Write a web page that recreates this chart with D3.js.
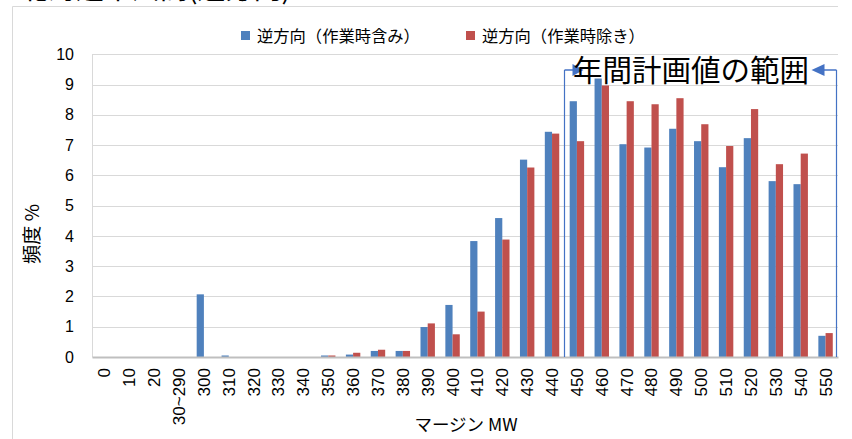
<!DOCTYPE html>
<html><head><meta charset="utf-8">
<script src="https://cdn.jsdelivr.net/npm/d3@7/dist/d3.min.js"></script>
<style>
html,body{margin:0;padding:0;background:#fff;}
svg{display:block;font-family:"Noto Sans CJK JP","Noto Sans",sans-serif;}
</style></head>
<body>
<svg id="chart" width="852" height="439"></svg>
<script>
const categories = ["0","10","20","30~290","300","310","320","330","340","350","360","370","380","390","400","410","420","430","440","450","460","470","480","490","500","510","520","530","540","550"];
const seriesNames = ["逆方向（作業時含み）","逆方向（作業時除き）"];
const withWork = [0,0,0,0,2.07,0.05,0,0,0,0.05,0.08,0.2,0.2,0.99,1.72,3.83,4.59,6.52,7.44,8.45,9.2,7.03,6.92,7.54,7.13,6.27,7.23,5.81,5.71,0.7];
const withoutWork = [0,0,0,0,0,0,0,0,0,0.05,0.14,0.24,0.2,1.11,0.75,1.5,3.88,6.26,7.38,7.13,8.97,8.45,8.35,8.55,7.69,6.97,8.19,6.37,6.72,0.79];
const yTicks = [0,1,2,3,4,5,6,7,8,9,10];
const rangeStart = "440", rangeEnd = "550";
const titleText = "北海道本州間(逆方向)";
const annotationText = "年間計画値の範囲";
const xTitle = "マージン MW";
const yTitle = "頻度 %";

const colors = ["#4F81BD","#C0504D"];
const numFont = "'Liberation Sans','DejaVu Sans',sans-serif";
const cjkFont = "'Noto Sans CJK JP','Noto Sans',sans-serif";
const svg = d3.select("#chart");
const m = {left:92, right:838, top:54.3, bottom:357};

// frame
svg.append("line").attr("x1",12.5).attr("x2",838).attr("y1",6.5).attr("y2",6.5).attr("stroke","#d9d9d9");
svg.append("line").attr("x1",12.5).attr("x2",12.5).attr("y1",6.5).attr("y2",439).attr("stroke","#d9d9d9");

// title (cut off at top, as in the reference)
svg.append("text").attr("x",20).attr("y",-1).style("font-family",cjkFont).style("font-size","28px").attr("fill","#000").text(titleText);

const x = d3.scaleBand().domain(categories).range([m.left,m.right]).paddingInner(0.42).paddingOuter(0.21);
const xs = d3.scaleBand().domain([0,1]).range([0,x.bandwidth()]);
const y = d3.scaleLinear().domain([0,10]).range([m.bottom,m.top]);

// gridlines
svg.append("g").selectAll("line").data(yTicks.filter(d=>d>0)).join("line")
  .attr("x1",m.left).attr("x2",m.right)
  .attr("y1",d=>Math.round(y(d))+0.5).attr("y2",d=>Math.round(y(d))+0.5)
  .attr("stroke","#d9d9d9").attr("stroke-width",1);

// y axis
const yAxis = svg.append("g").attr("transform",`translate(${m.left},0)`)
  .call(d3.axisLeft(y).tickValues(yTicks).tickSize(0).tickPadding(18));
yAxis.attr("font-family",numFont).attr("font-size",16);
yAxis.select(".domain").attr("stroke","#d9d9d9");
yAxis.selectAll("text").style("font-size","16px").attr("fill","#000").style("font-family",numFont);

// bars
const series = [withWork, withoutWork];
series.forEach((vals,si)=>{
  svg.append("g").selectAll("rect").data(vals.map((v,i)=>({c:categories[i],v}))).join("rect")
    .attr("x",d=>x(d.c)+xs(si))
    .attr("width",xs.bandwidth())
    .attr("y",d=>y(d.v))
    .attr("height",d=>y(0)-y(d.v))
    .attr("fill",colors[si]);
});

// x axis
const xAxis = svg.append("g").attr("transform",`translate(0,${m.bottom})`)
  .call(d3.axisBottom(x).tickSize(0).tickPadding(0));
xAxis.attr("font-family",numFont).attr("font-size",17);
xAxis.select(".domain").attr("stroke","#bfbfbf").attr("stroke-width",2);
xAxis.selectAll("text")
  .style("font-size","17px").attr("fill","#000").style("font-family",numFont)
  .attr("text-anchor","end").attr("dy","0.35em")
  .attr("transform","translate(0,11) rotate(-90)").attr("x",0).attr("y",0);

// annotation range
const ac = "#4472C4";
const xLeft = Math.round((x(rangeStart)+x.bandwidth()+x(categories[categories.indexOf(rangeStart)+1]))/2)+0.5;
const xRight = m.right-1.5;
const ay = 70;
svg.append("line").attr("x1",xLeft).attr("x2",xLeft).attr("y1",ay).attr("y2",m.bottom).attr("stroke",ac).attr("stroke-width",1.2);
svg.append("line").attr("x1",xRight).attr("x2",xRight).attr("y1",ay).attr("y2",m.bottom).attr("stroke",ac).attr("stroke-width",1.2);
svg.append("line").attr("x1",xLeft).attr("x2",xLeft+10).attr("y1",ay).attr("y2",ay).attr("stroke",ac).attr("stroke-width",1.5);
svg.append("path").attr("d",`M${xLeft+8},${ay-6}L${xLeft+19},${ay}L${xLeft+8},${ay+6}Z`).attr("fill",ac);
svg.append("line").attr("x1",xRight).attr("x2",xRight-14).attr("y1",ay).attr("y2",ay).attr("stroke",ac).attr("stroke-width",1.5);
svg.append("path").attr("d",`M${xRight-12},${ay-6}L${xRight-25},${ay}L${xRight-12},${ay+6}Z`).attr("fill",ac);
svg.append("text").attr("x",573).attr("y",ay+11).style("font-family",cjkFont).style("font-size","29.5px").attr("fill","#000").text(annotationText);

// legend
const legX = [241,466];
seriesNames.forEach((n,i)=>{
  svg.append("rect").attr("x",legX[i]).attr("y",31).attr("width",9).attr("height",9).attr("fill",colors[i]);
  svg.append("text").attr("x",legX[i]+16).attr("y",41.5).style("font-family",cjkFont).style("font-size","16.3px").attr("fill","#000").text(n);
});

// axis titles
svg.append("text").attr("x",466).attr("y",431).attr("text-anchor","middle").style("font-family",cjkFont).style("font-size","17.5px").attr("fill","#000").text(xTitle);
svg.append("text").attr("transform","translate(39,234) rotate(-90)").attr("text-anchor","middle").style("font-family",cjkFont).style("font-size","19px").attr("fill","#000").text(yTitle);
</script>
</body></html>
